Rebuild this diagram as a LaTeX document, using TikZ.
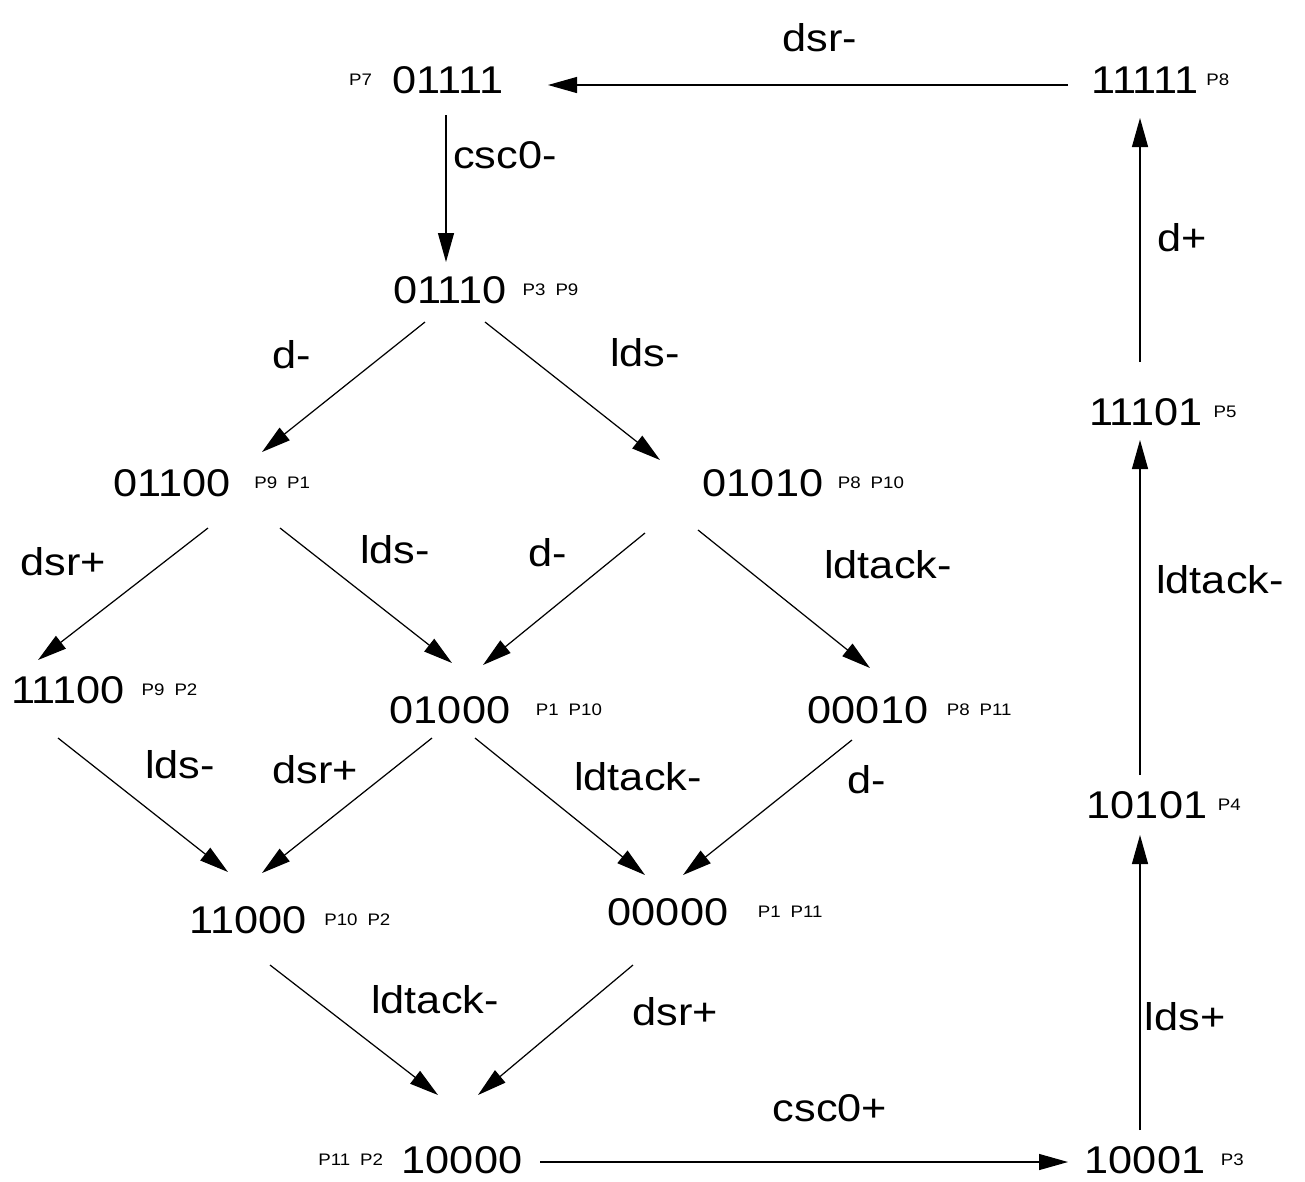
\documentclass[tikz,border=0pt]{standalone}
\usepackage{fontspec}
\setmainfont{Liberation Sans}[FakeStretch=1.12]
\usetikzlibrary{positioning,arrows.meta}

\tikzset{
	state/.style={inner sep=0pt, font=\fontsize{22}{26}\selectfont},
	places/.style={inner sep=0pt, font=\fontsize{9.5}{11}\selectfont},
	signal/.style={inner sep=0pt, font=\fontsize{22}{26}\selectfont},
	trans/.style={draw, line width=0.7pt, -{Triangle[length=0.58cm,width=0.32cm]}},
}
\newcommand{\pp}{\hspace{0.2cm}}

\begin{document}
\begin{tikzpicture}[x=0.02cm, y=-0.02cm]

\useasboundingbox (0,0) rectangle (1305,1181);

% States
\node [state] (s01111) at (448,80) {01111};
\node [state] (s11111) at (1145,80) {11111};
\node [state] (s01110) at (450,290) {01110};
\node [state] (s01100) at (172,483) {01100};
\node [state] (s01010) at (763,483) {01010};
\node [state] (s11100) at (68,690) {11100};
\node [state] (s01000) at (450,710) {01000};
\node [state] (s00010) at (868,710) {00010};
\node [state] (s11000) at (248,920) {11000};
\node [state] (s00000) at (668,912) {00000};
\node [state] (s10000) at (462,1160) {10000};
\node [state] (s10001) at (1145,1160) {10001};
\node [state] (s10101) at (1147,805) {10101};
\node [state] (s11101) at (1146,412) {11101};

% Marked places
\node [places, left = 0.4cm of s01111] (p01111) {P7};
\node [places, right = 0.14cm of s11111] (p11111) {P8};
\node [places, right = 0.3cm of s01110] (p01110) {P3\pp P9};
\node [places, right = 0.46cm of s01100] (p01100) {P9\pp P1};
\node [places, right = 0.28cm of s01010] (p01010) {P8\pp P10};
\node [places, right = 0.32cm of s11100] (p11100) {P9\pp P2};
\node [places, right = 0.5cm of s01000] (p01000) {P1\pp P10};
\node [places, right = 0.36cm of s00010] (p00010) {P8\pp P11};
\node [places, right = 0.34cm of s11000] (p11000) {P10\pp P2};
\node [places, right = 0.58cm of s00000] (p00000) {P1\pp P11};
\node [places, left = 0.36cm of s10000] (p10000) {P11\pp P2};
\node [places, right = 0.2cm of s11101] (p11101) {P5};
\node [places, right = 0.2cm of s10101] (p10101) {P4};
\node [places, right = 0.3cm of s10001] (p10001) {P3};

% Transitions
\draw [trans] ([shift={(-77,5)}]s11111.center) -- ([shift={(100,5)}]s01111.center);
\draw [trans] ([shift={(-2,35)}]s01111.center) -- ([shift={(-4,-28)}]s01110.center);
\draw [trans] ([shift={(-25,32)}]s01110.center) -- ([shift={(90,-31)}]s01100.center);
\draw [trans] ([shift={(35,32)}]s01110.center) -- ([shift={(-103,-23)}]s01010.center);
\draw [trans] ([shift={(36,45)}]s01100.center) -- ([shift={(-30,-30)}]s11100.center);
\draw [trans] ([shift={(108,45)}]s01100.center) -- ([shift={(2,-47)}]s01000.center);
\draw [trans] ([shift={(-118,50)}]s01010.center) -- ([shift={(33,-45)}]s01000.center);
\draw [trans] ([shift={(-65,47)}]s01010.center) -- ([shift={(2,-42)}]s00010.center);
\draw [trans] ([shift={(-10,48)}]s11100.center) -- ([shift={(-20,-48)}]s11000.center);
\draw [trans] ([shift={(-18,28)}]s01000.center) -- ([shift={(14,-47)}]s11000.center);
\draw [trans] ([shift={(25,28)}]s01000.center) -- ([shift={(-23,-37)}]s00000.center);
\draw [trans] ([shift={(-16,30)}]s00010.center) -- ([shift={(15,-37)}]s00000.center);
\draw [trans] ([shift={(22,45)}]s11000.center) -- ([shift={(-24,-65)}]s10000.center);
\draw [trans] ([shift={(-35,53)}]s00000.center) -- ([shift={(16,-65)}]s10000.center);
\draw [trans] ([shift={(78,2)}]s10000.center) -- ([shift={(-77,2)}]s10001.center);
\draw [trans] ([shift={(-5,-30)}]s10001.center) -- ([shift={(-7,30)}]s10101.center);
\draw [trans] ([shift={(-7,-30)}]s10101.center) -- ([shift={(-6,28)}]s11101.center);
\draw [trans] ([shift={(-6,-50)}]s11101.center) -- ([shift={(-5,38)}]s11111.center);

% Signal labels
\node [signal] (lbl_dsr_minus) at (820,38) {dsr-};
\node [signal] (lbl_csc_minus) at (505,155) {csc0-};
\node [signal] (lbl_d_a) at (292,355) {d-};
\node [signal] (lbl_lds_a) at (645,353) {lds-};
\node [signal] (lbl_dsr_a) at (63,562) {dsr+};
\node [signal] (lbl_lds_b) at (395,550) {lds-};
\node [signal] (lbl_d_b) at (548,553) {d-};
\node [signal] (lbl_ldtack_a) at (888,565) {ldtack-};
\node [signal] (lbl_lds_c) at (180,765) {lds-};
\node [signal] (lbl_dsr_b) at (315,770) {dsr+};
\node [signal] (lbl_ldtack_b) at (638,777) {ldtack-};
\node [signal] (lbl_d_c) at (867,780) {d-};
\node [signal] (lbl_ldtack_c) at (435,1000) {ldtack-};
\node [signal] (lbl_dsr_c) at (675,1012) {dsr+};
\node [signal] (lbl_csc_plus) at (830,1108) {csc0+};
\node [signal] (lbl_lds_plus) at (1185,1017) {lds+};
\node [signal] (lbl_ldtack_d) at (1220,580) {ldtack-};
\node [signal] (lbl_d_plus) at (1182,238) {d+};

\end{tikzpicture}
\end{document}
